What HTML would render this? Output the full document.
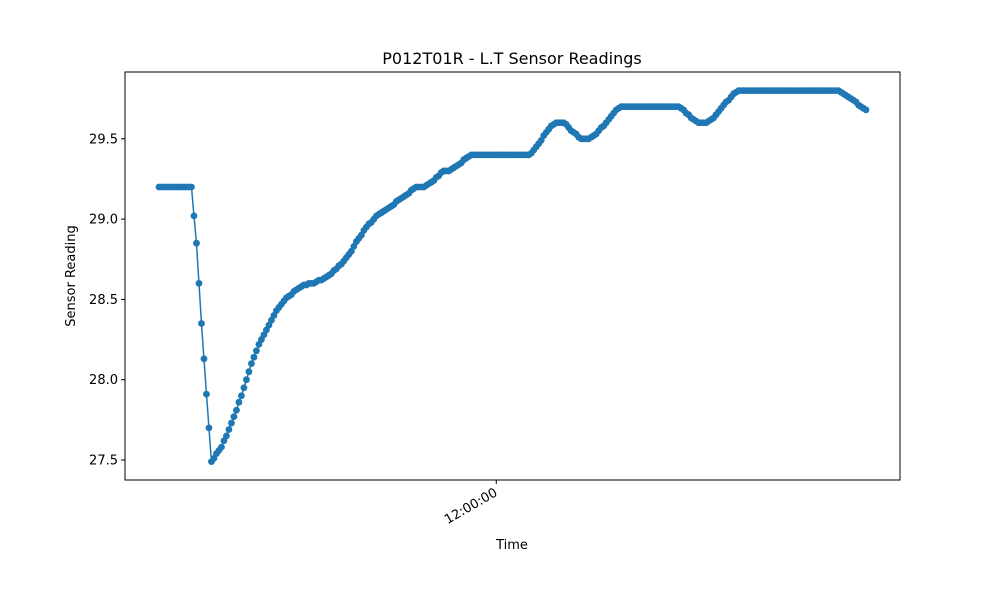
<!DOCTYPE html>
<html><head><meta charset="utf-8"><style>
body{margin:0;background:#fff;}
svg{display:block;font-family:"DejaVu Sans","Liberation Sans",sans-serif;}
</style></head><body>
<svg id="chart" width="1000" height="600"></svg>
<script>
const flatStart=[29.2,29.2,29.2,29.2,29.2,29.2,29.2,29.2,29.2,29.2,29.2,29.2,29.2,29.2];
const dropVals=[29.02,28.85,28.6,28.35,28.13,27.91,27.7];
const riseVals=[27.49,27.51,27.54,27.56,27.58,27.62,27.65,27.69,27.73,27.77,27.81,27.86,27.9,27.95,28.0,28.05,28.1,28.14,28.18,28.22,28.25,28.28,28.31,28.34,28.37,28.4,28.43,28.45,28.47,28.49,28.51,28.52,28.53,28.55,28.56,28.57,28.58,28.59,28.59,28.6,28.6,28.6,28.61,28.62,28.62,28.63,28.64,28.65,28.66,28.68,28.69,28.71,28.72,28.74,28.76,28.78,28.8,28.83,28.86,28.88,28.9,28.93,28.95,28.97,28.98,29.0,29.02,29.03,29.04,29.05,29.06,29.07,29.08,29.09,29.11,29.12,29.13,29.14,29.15,29.16,29.18,29.19,29.2,29.2,29.2,29.2,29.21,29.22,29.23,29.24,29.26,29.27,29.29,29.3,29.3,29.3,29.31,29.32,29.33,29.34,29.35,29.37,29.38,29.39];
const plateauA=[29.4,29.4,29.4,29.4,29.4,29.4,29.4,29.4,29.4,29.4,29.4,29.4,29.4,29.4,29.4,29.4,29.4,29.4,29.4,29.4,29.4,29.4,29.4,29.4];
const waveVals=[29.41,29.43,29.45,29.47,29.49,29.52,29.54,29.56,29.58,29.59,29.6,29.6,29.6,29.6,29.59,29.57,29.55,29.54,29.53,29.51,29.5,29.5,29.5,29.5,29.51,29.52,29.53,29.55,29.57,29.58,29.6,29.62,29.64,29.66,29.68,29.69];
const plateauB=[29.7,29.7,29.7,29.7,29.7,29.7,29.7,29.7,29.7,29.7,29.7,29.7,29.7,29.7,29.7,29.7,29.7,29.7,29.7,29.7,29.7,29.7,29.7,29.7];
const dipVals=[29.69,29.68,29.66,29.65,29.63,29.62,29.61,29.6,29.6,29.6,29.6,29.61,29.62,29.63,29.65,29.67,29.69,29.71,29.73,29.74,29.76,29.78,29.79];
const plateauC=[29.8,29.8,29.8,29.8,29.8,29.8,29.8,29.8,29.8,29.8,29.8,29.8,29.8,29.8,29.8,29.8,29.8,29.8,29.8,29.8,29.8,29.8,29.8,29.8,29.8,29.8,29.8,29.8,29.8,29.8,29.8,29.8,29.8,29.8,29.8,29.8,29.8,29.8,29.8,29.8,29.8];
const tailVals=[29.79,29.78,29.77,29.76,29.75,29.74,29.73,29.71,29.7,29.69,29.68];
const yTicks=[27.5,28.0,28.5,29.0,29.5];
const xTickLabels=["12:00:00"];
const xTickMinutes=[720];
const startMinute=585; // 09:45 start, 1 reading/min

const values=[].concat(flatStart,dropVals,riseVals,plateauA,waveVals,plateauB,dipVals,plateauC,tailVals);
const NS="http://www.w3.org/2000/svg";
const svg=document.getElementById('chart');
const L=125,R=900,T=72,B=480;
const x0=159,x1=866;
const n=values.length;
const minutes=values.map((v,i)=>startMinute+i);
const xs=m=>x0+(m-minutes[0])/(minutes[n-1]-minutes[0])*(x1-x0);
const ys=v=>460-(v-27.5)*160.6;
function mk(tag,attrs,parent){const e=document.createElementNS(NS,tag);for(const k in attrs)e.setAttribute(k,attrs[k]);(parent||svg).appendChild(e);return e;}

let t=mk('text',{x:512,y:64,'text-anchor':'middle','font-size':16,fill:'#000'});


t.textContent='P012T01R - L.T Sensor Readings';

const ax=mk('rect',{x:L,y:T,width:R-L,height:B-T,fill:'none',stroke:'#000','stroke-width':1});



yTicks.forEach(v=>{
  const y=ys(v);
  const tk=mk('line',{x1:L-4,x2:L,y1:y,y2:y,stroke:'#000'});
  
  
  const lb=mk('text',{x:L-7,y:y+4.5,'text-anchor':'end','font-size':13,fill:'#000'});
  
  
  lb.textContent=v.toFixed(1);
});
xTickMinutes.forEach((m,i)=>{
  const x=xs(m);
  const tk=mk('line',{x1:x,x2:x,y1:B,y2:B+4,stroke:'#000'});
  
  
  const lb=mk('text',{x:x+2,y:B+15,'text-anchor':'end','font-size':13,fill:'#000',transform:`rotate(-30 ${x+2} ${B+15})`});
  
  
  lb.textContent=xTickLabels[i];
});
let xl=mk('text',{x:512,y:549,'text-anchor':'middle','font-size':13,fill:'#000'});


xl.textContent='Time';
let yl=mk('text',{x:75,y:276,'text-anchor':'middle','font-size':13,fill:'#000',transform:'rotate(-90 75 276)'});


yl.textContent='Sensor Reading';

const pts=values.map((v,i)=>xs(minutes[i]).toFixed(2)+','+ys(v).toFixed(2)).join(' ');
const line=mk('polyline',{points:pts,fill:'none',stroke:'#1f77b4','stroke-width':1.5});


values.forEach((v,i)=>{
  const c=mk('circle',{cx:xs(minutes[i]),cy:ys(v),r:3.4,fill:'#1f77b4'});
  
  
});
</script>
</body></html>
